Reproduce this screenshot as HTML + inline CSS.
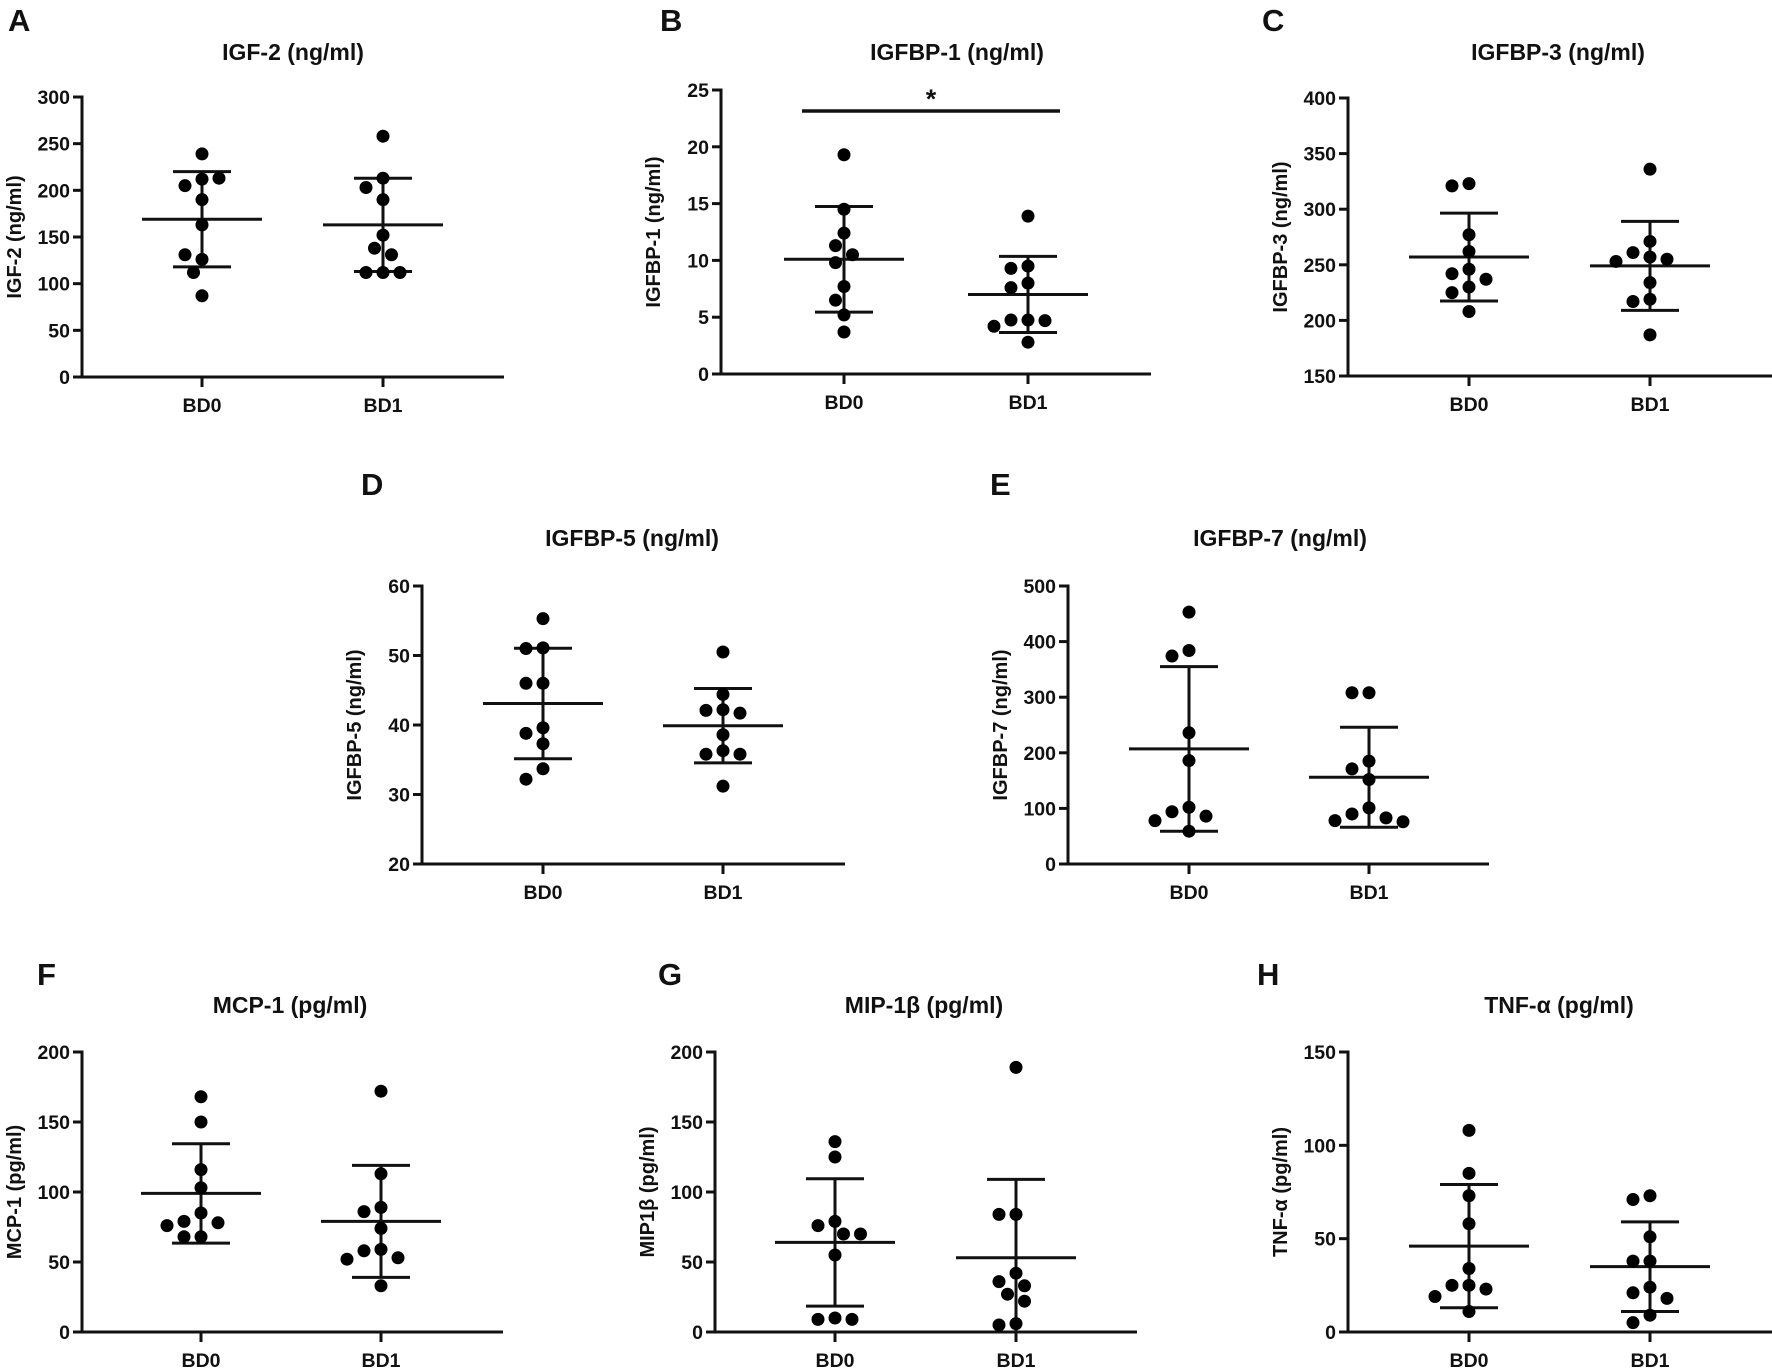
<!DOCTYPE html>
<html><head><meta charset="utf-8"><style>
html,body{margin:0;padding:0;background:#fff;}
svg{display:block;}
text{font-family:"Liberation Sans",Arial,sans-serif;font-weight:bold;fill:#111;}
</style></head><body>
<svg id="fig" width="1772" height="1369" viewBox="0 0 1772 1369" xmlns="http://www.w3.org/2000/svg"></svg>
<script>
// ---- data ----
const categories = ["BD0", "BD1"];
const igf2_bd0 = [239, 212, 205, 213, 190, 163, 126, 131, 112, 87];
const igf2_bd1 = [258, 213, 203, 190, 152, 138, 131, 112, 112, 112];
const igf2_mean = [169, 163];
const igf2_sd = [51, 50];
const igfbp1_bd0 = [19.3, 14.5, 12.4, 11.3, 10.5, 9.8, 7.7, 6.5, 5.2, 3.7];
const igfbp1_bd1 = [13.9, 9.5, 9.3, 8.0, 7.6, 4.75, 4.75, 4.7, 4.2, 2.8];
const igfbp1_mean = [10.1, 7.0];
const igfbp1_sd = [4.65, 3.35];
const igfbp3_bd0 = [323, 321, 277, 262, 246, 242, 237, 230, 225, 208];
const igfbp3_bd1 = [336, 271, 261, 257, 255, 253, 234, 219, 217, 187];
const igfbp3_mean = [257, 249];
const igfbp3_sd = [39.5, 40];
const igfbp5_bd0 = [55.3, 51.1, 51.0, 46.0, 46.0, 39.6, 38.8, 37.3, 33.7, 32.2];
const igfbp5_bd1 = [50.5, 44.4, 42.2, 42.1, 41.7, 38.6, 36.3, 35.8, 35.8, 31.2];
const igfbp5_mean = [43.1, 39.9];
const igfbp5_sd = [7.95, 5.35];
const igfbp7_bd0 = [453, 384, 374, 236, 186, 102, 94, 86, 78, 59];
const igfbp7_bd1 = [308, 308, 185, 171, 152, 101, 90, 83, 78, 76];
const igfbp7_mean = [207, 156];
const igfbp7_sd = [148, 90];
const mcp1_bd0 = [168, 150, 116, 103, 85, 79, 78, 76, 68, 68];
const mcp1_bd1 = [172, 113, 89, 86, 74, 59, 58, 53, 52, 33];
const mcp1_mean = [99, 79];
const mcp1_sd = [35.5, 40];
const mip1b_bd0 = [136, 125, 79, 76, 70, 70, 55, 10, 9, 9];
const mip1b_bd1 = [189, 84, 84, 42, 36, 33, 27, 22, 6, 5];
const mip1b_mean = [64, 53];
const mip1b_sd = [45.5, 56];
const tnfa_bd0 = [108, 85, 73, 58, 34, 25, 25, 23, 19, 11];
const tnfa_bd1 = [73, 71, 51, 38, 38, 24, 21, 18, 9, 5];
const tnfa_mean = [46, 35];
const tnfa_sd = [33, 24];
const yTicksA = [0, 50, 100, 150, 200, 250, 300];
const yTicksB = [0, 5, 10, 15, 20, 25];
const yTicksC = [150, 200, 250, 300, 350, 400];
const yTicksD = [20, 30, 40, 50, 60];
const yTicksE = [0, 100, 200, 300, 400, 500];
const yTicksFG = [0, 50, 100, 150, 200];
const yTicksH = [0, 50, 100, 150];

// ---- layout ----
const panels = [
 {id:"a",letter:"A",lx:8,ly:31,title:"IGF-2 (ng/ml)",ytitle:"IGF-2 (ng/ml)",ax:82,xend:504,y0:377,y1:97,ticks:yTicksA,c0:202,c1:383,tx:293,ty:60,d0:igf2_bd0,d1:igf2_bd1,m:igf2_mean,s:igf2_sd},
 {id:"b",letter:"B",lx:660,ly:31,title:"IGFBP-1 (ng/ml)",ytitle:"IGFBP-1 (ng/ml)",ax:721,xend:1151,y0:374,y1:90,ticks:yTicksB,c0:844,c1:1028,tx:957,ty:60,d0:igfbp1_bd0,d1:igfbp1_bd1,m:igfbp1_mean,s:igfbp1_sd,sig:true},
 {id:"c",letter:"C",lx:1262,ly:31,title:"IGFBP-3 (ng/ml)",ytitle:"IGFBP-3 (ng/ml)",ax:1348,xend:1772,y0:376,y1:98,ticks:yTicksC,c0:1469,c1:1650,tx:1558,ty:60,d0:igfbp3_bd0,d1:igfbp3_bd1,m:igfbp3_mean,s:igfbp3_sd},
 {id:"d",letter:"D",lx:361,ly:495,title:"IGFBP-5 (ng/ml)",ytitle:"IGFBP-5 (ng/ml)",ax:422,xend:845,y0:864,y1:586,ticks:yTicksD,c0:543,c1:723,tx:632,ty:546,d0:igfbp5_bd0,d1:igfbp5_bd1,m:igfbp5_mean,s:igfbp5_sd},
 {id:"e",letter:"E",lx:990,ly:495,title:"IGFBP-7 (ng/ml)",ytitle:"IGFBP-7 (ng/ml)",ax:1068,xend:1489,y0:864,y1:586,ticks:yTicksE,c0:1189,c1:1369,tx:1280,ty:546,d0:igfbp7_bd0,d1:igfbp7_bd1,m:igfbp7_mean,s:igfbp7_sd},
 {id:"f",letter:"F",lx:37,ly:985,title:"MCP-1 (pg/ml)",ytitle:"MCP-1 (pg/ml)",ax:82,xend:503,y0:1332,y1:1052,ticks:yTicksFG,c0:201,c1:381,tx:290,ty:1013,d0:mcp1_bd0,d1:mcp1_bd1,m:mcp1_mean,s:mcp1_sd},
 {id:"g",letter:"G",lx:658,ly:985,title:"MIP-1\u03b2 (pg/ml)",ytitle:"MIP1\u03b2 (pg/ml)",ax:715,xend:1137,y0:1332,y1:1052,ticks:yTicksFG,c0:835,c1:1016,tx:924,ty:1013,d0:mip1b_bd0,d1:mip1b_bd1,m:mip1b_mean,s:mip1b_sd},
 {id:"h",letter:"H",lx:1257,ly:985,title:"TNF-\u03b1 (pg/ml)",ytitle:"TNF-\u03b1 (pg/ml)",ax:1348,xend:1772,y0:1332,y1:1052,ticks:yTicksH,c0:1469,c1:1650,tx:1559,ty:1013,d0:tnfa_bd0,d1:tnfa_bd1,m:tnfa_mean,s:tnfa_sd}
];

const NS = "http://www.w3.org/2000/svg";
const svg = document.getElementById("fig");
function mk(tag, attrs, parent){
  const e = document.createElementNS(NS, tag);
  for (const k in attrs) e.setAttribute(k, attrs[k]);
  parent.appendChild(e);
  return e;
}
function line(p, x1,y1,x2,y2,w){ return mk("line",{x1:x1,y1:y1,x2:x2,y2:y2,stroke:"#111","stroke-width":w||3},p); }

const R = 6.5, DX = 17;
function swarm(vals, cx, yS){
  const placed = [];
  vals.forEach(v=>{
    const y = yS(v);
    const cands = [0];
    for (let k=1;k<6;k++){ cands.push(-k*DX/2); cands.push(k*DX/2); }
    let chosen = 0;
    for (const off of cands){
      const x = cx + off;
      let ok = true;
      for (const p of placed){ if (Math.hypot(p.x-x,p.y-y) < 2*R+1.5){ ok=false; break; } }
      if (ok){ chosen = off; break; }
    }
    placed.push({x:cx+chosen,y:y});
  });
  return placed;
}

panels.forEach(P=>{
  const g = mk("g",{},svg);
  
  
  const lo = P.ticks[0], hi = P.ticks[P.ticks.length-1];
  const yS = v => P.y0 - (v-lo)/(hi-lo)*(P.y0-P.y1);

  const lt = mk("text",{x:P.lx,y:P.ly,"font-size":31},g);
  lt.textContent = P.letter;
  
  

  const tt = mk("text",{x:P.tx,y:P.ty,"font-size":23,"text-anchor":"middle"},g);
  tt.textContent = P.title;
  
  

  const ym = (P.y0+P.y1)/2, yx = P.ax-61;
  const yt = mk("text",{x:yx,y:ym,"font-size":20,"text-anchor":"middle",transform:"rotate(-90 "+yx+" "+ym+")"},g);
  yt.textContent = P.ytitle;
  
  

  const ya = line(g, P.ax, P.y1-1.5, P.ax, P.y0+1.5, 3);
  
  
  const xa = line(g, P.ax-1.5, P.y0, P.xend, P.y0, 3);
  
  
  P.ticks.forEach(t=>{
    const y = yS(t);
    line(g, P.ax-9, y, P.ax, y, 3);
    const tl = mk("text",{x:P.ax-12,y:y+7,"font-size":19.5,"text-anchor":"end"},g);
    tl.textContent = t;
    
    
  });
  const cxs = [P.c0, P.c1];
  cxs.forEach((cx,ci)=>{
    line(g, cx, P.y0, cx, P.y0+10, 3);
    const cl = mk("text",{x:cx,y:P.y0+35,"font-size":19.5,"text-anchor":"middle"},g);
    cl.textContent = categories[ci];
    
    
  });

  [P.d0, P.d1].forEach((vals,ci)=>{
    const cx = cxs[ci];
    const sg = mk("g",{},g);
    
    
    const m = P.m[ci], s = P.s[ci];
    const top = m + s, bot = m - s;
    const ybot = bot < lo ? P.y0 : yS(bot);
    const ev = line(sg, cx, yS(top), cx, ybot, 3);
    
    
    const ct = line(sg, cx-29, yS(top), cx+29, yS(top), 3);
    
    
    if (bot >= lo){
      const cb = line(sg, cx-29, yS(bot), cx+29, yS(bot), 3);
      
      
    }
    const ml = line(sg, cx-60, yS(m), cx+60, yS(m), 3);
    
    
    swarm(vals, cx, yS).forEach(p=>{
      const c = mk("circle",{cx:p.x,cy:p.y,r:R,fill:"#000"},sg);
      
      
    });
  });

  if (P.sig){
    const sb = line(g, 802, 111, 1060, 111, 3.5);
    
    
    const st = mk("text",{x:931,y:108,"font-size":27,"text-anchor":"middle"},g);
    st.textContent = "*";
    
    
  }
});
</script>
</body></html>
